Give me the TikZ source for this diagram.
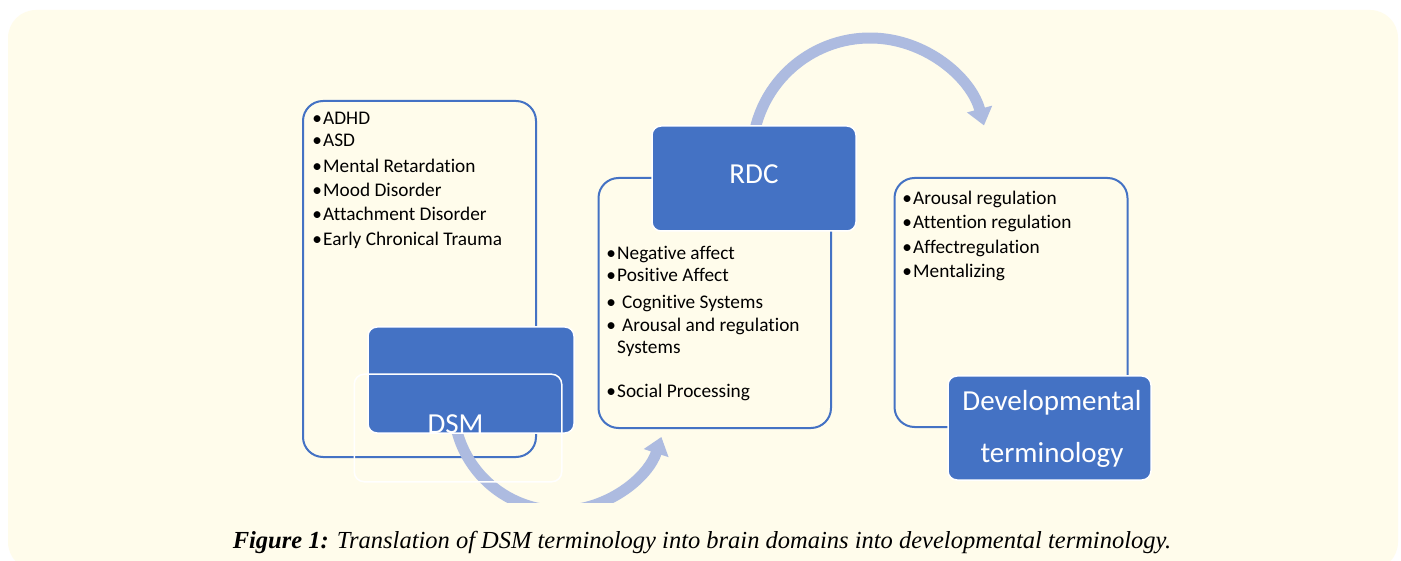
\documentclass[tikz,border=0pt]{standalone}
\usepackage{fontspec}
\setmainfont{Carlito}[Ligatures=NoCommon]
\newfontfamily\capfont{Liberation Serif}
\usetikzlibrary{arrows.meta}
\definecolor{accent}{RGB}{68,114,196}
\definecolor{arcblue}{RGB}{173,187,224}
\definecolor{cream}{RGB}{255,252,235}
\newcommand\bul{\makebox[12pt][c]{•}}
\newcommand\wbul{\makebox[17pt][l]{\makebox[12pt][c]{•}}}
\tikzset{
  frame/.style={draw=accent, line width=2pt, rounded corners=20pt, inner sep=0pt},
  bluebox/.style={fill=accent, draw=white, line width=1.5pt, rounded corners=9pt, inner sep=0pt},
  textframe/.style={draw=white, line width=1.5pt, rounded corners=10pt, inner sep=0pt},
  item/.style={anchor=base west, inner sep=0pt, font=\fontsize{19.3}{23}\selectfont},
  title/.style={anchor=base, inner sep=0pt, text=white, font=\fontsize{29}{34}\selectfont},
  flow/.style={draw=arcblue, line width=11pt, -{Triangle[length=17pt,width=25pt]}},
}
\begin{document}
\begin{tikzpicture}[x=1pt, y=-1pt]
\useasboundingbox (0,0) rectangle (1401,561);
\fill[white] (0,0) rectangle (1401,561);
\fill[cream, rounded corners=28pt] (8,10) rectangle (1398,570);

% outlined panels
\node[frame, minimum width=233pt, minimum height=356pt] (dsmframe) at (419.5,279) {};
\node[frame, minimum width=232.5pt, minimum height=250pt] (rdcframe) at (714.75,303) {};
\node[frame, minimum width=233pt, minimum height=249pt] (devframe) at (1011,302.5) {};

% curved transition arrows
\coordinate (c1) at (560,404);
\coordinate (c2) at (870,156);
\begin{scope}
  \clip (0,0) rectangle (1401,502);
  \draw[flow] ([shift={(-190:106.6)}]c1) arc[start angle=-190, end angle=-342, radius=106.6];
\end{scope}
\draw[flow] ([shift={(-170:118)}]c2) arc[start angle=-170, end angle=-15, radius=118];

% filled heading boxes
\node[bluebox, minimum width=206pt, minimum height=106pt] (dsmbox) at (471,380) {};
\node[bluebox, minimum width=204pt, minimum height=105pt] (rdcbox) at (754,178.5) {};
\node[bluebox, minimum width=203pt, minimum height=104pt] (devbox) at (1049.5,428) {};
\node[textframe, minimum width=207.5pt, minimum height=107.5pt] (dsmtext) at (458,428) {};

% headings
\node[title] (dsm) at (455.5,433) {DSM};
\node[title] (rdc) at (754,184) {RDC};
\node[title] (dev1) at (1052,410.5) {Developmental};
\node[title] (dev2) at (1052,462) {terminology};

% DSM list
\node[item] (d1) at (311,125) {\bul ADHD};
\node[item] (d2) at (311,146.7) {\bul ASD};
\node[item] (d3) at (311,172.7) {\bul Mental Retardation};
\node[item] (d4) at (311,196.7) {\bul Mood Disorder};
\node[item] (d5) at (311,220.7) {\bul Attachment Disorder};
\node[item] (d6) at (311,246) {\bul Early Chronical Trauma};

% RDC list
\node[item] (r1) at (605,260) {\bul Negative affect};
\node[item] (r2) at (605,281.7) {\bul Positive Affect};
\node[item] (r3) at (605,308.3) {\wbul Cognitive Systems};
\node[item] (r4) at (605,331.7) {\wbul Arousal and regulation};
\node[item] (r5) at (617,353.3) {Systems};
\node[item] (r6) at (605,397.7) {\bul Social Processing};

% developmental list
\node[item] (v1) at (901,205) {\bul Arousal regulation};
\node[item] (v2) at (901,228.3) {\bul Attention regulation};
\node[item] (v3) at (901,253.3) {\bul Affectregulation};
\node[item] (v4) at (901,277.3) {\bul Mentalizing};

% caption
\node[anchor=base, inner sep=0pt, font=\capfont\fontsize{24.5}{28}\selectfont] (cap) at (702,548)
  {\textbf{\textit{Figure 1:}} \textit{Translation of DSM terminology into brain domains into developmental terminology.}};
\end{tikzpicture}
\end{document}
